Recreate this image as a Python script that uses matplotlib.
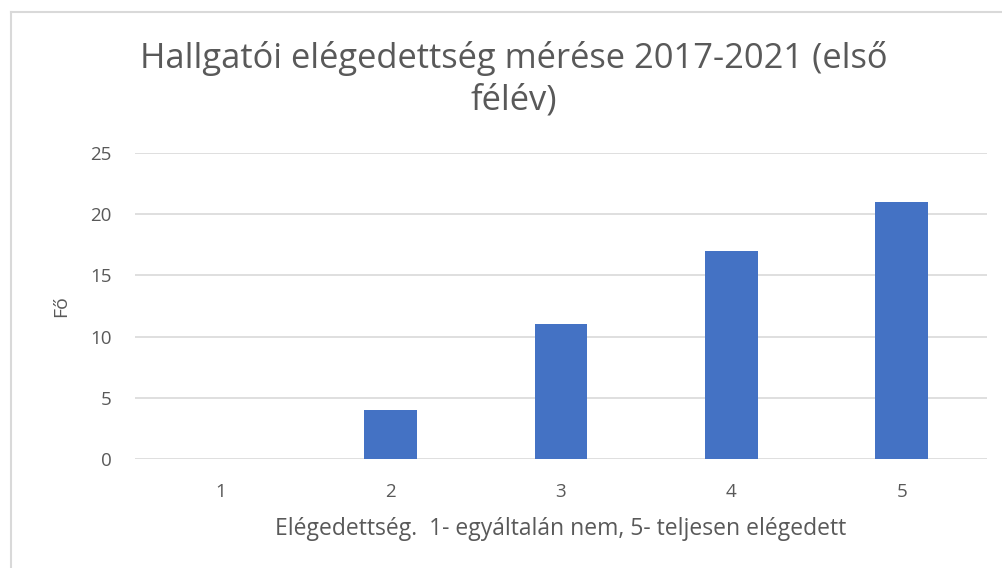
import matplotlib
matplotlib.use("Agg")
import matplotlib.pyplot as plt
from matplotlib.lines import Line2D

categories = ["1", "2", "3", "4", "5"]
values = [0, 4, 11, 17, 21]
yticks = [0, 5, 10, 15, 20, 25]
title = "Hallgatói elégedettség mérése 2017-2021 (első\nfélév)"
xlabel = "Elégedettség.  1- egyáltalán nem, 5- teljesen elégedett"
ylabel = "Fő"

plt.rcParams['font.family'] = ['Open Sans', 'DejaVu Sans']
W, H = 1002, 568
fig = plt.figure(figsize=(W/100, H/100), dpi=100)
ax = fig.add_axes([135/W, 1-459/H, (987-135)/W, (459-153)/H])

x = list(range(len(categories)))
ax.bar(x, values, width=0.31, color="#4472C4", zorder=3)
ax.set_xlim(-0.5, len(categories)-0.5)
ax.set_ylim(0, 25)
ax.set_yticks(yticks)
ax.set_xticks(x)
ax.set_xticklabels(categories)
ax.yaxis.grid(True, color="#D9D9D9", linewidth=1.2, zorder=0)
for s in ax.spines.values():
    s.set_visible(False)
ax.tick_params(length=0, labelsize=13.5, colors="#595959")
ax.tick_params(axis='x', pad=17)
ax.tick_params(axis='y', pad=17)
ax.set_xlabel(xlabel, fontsize=16.5, color="#595959", labelpad=12)
ax.set_ylabel(ylabel, fontsize=14, color="#595959", labelpad=14)

fig.text(0.513, 1-79/H, title, ha="center", va="center", fontsize=24.8,
         color="#595959", linespacing=1.3)

fig.add_artist(Line2D([10.5/W, 1], [1-11.5/H, 1-11.5/H], color="#D9D9D9", linewidth=1.5))
fig.add_artist(Line2D([10.5/W, 10.5/W], [0, 1-11.5/H], color="#D9D9D9", linewidth=1.5))

fig.savefig("out.png", dpi=100)
